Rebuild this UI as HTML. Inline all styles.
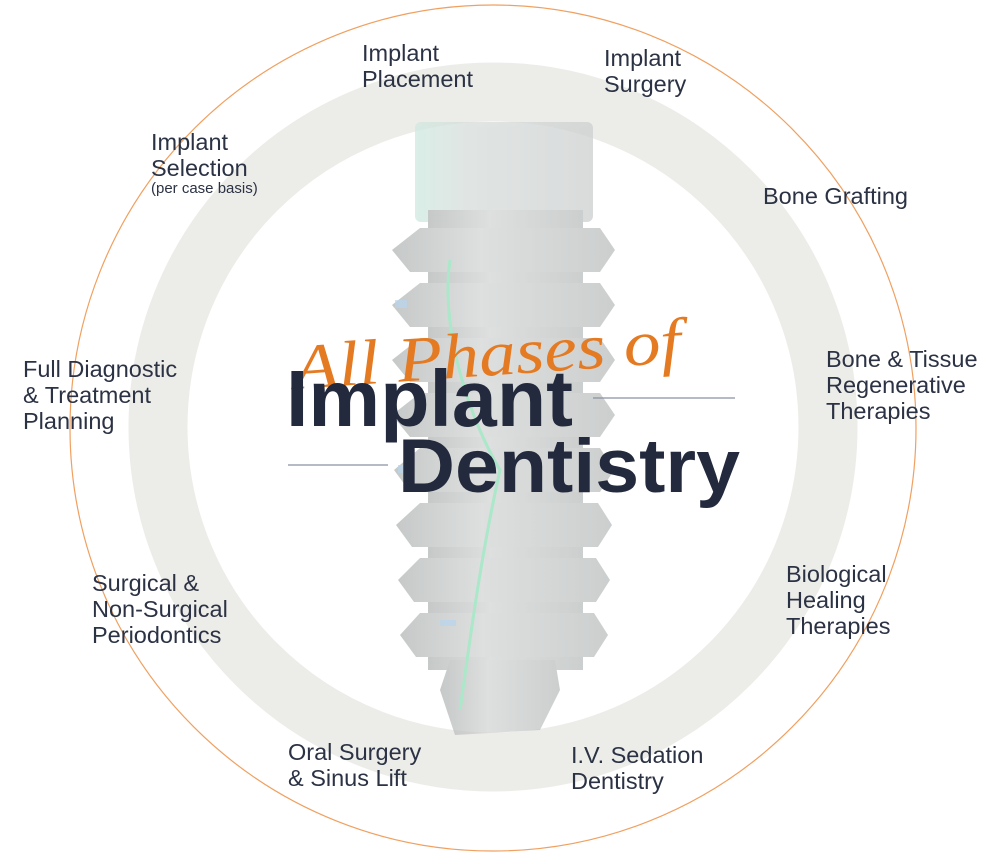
<!DOCTYPE html>
<html><head><meta charset="utf-8"><style>
html,body{margin:0;padding:0;background:#fff;}
body{width:988px;height:864px;position:relative;overflow:hidden;font-family:"Liberation Sans",sans-serif;}
.l{position:absolute;color:#2b3244;font-size:23.5px;line-height:26px;white-space:nowrap;}
.s{font-size:15px;line-height:16px;display:block;}
</style></head><body>
<svg width="988" height="864" style="position:absolute;left:0;top:0">
<defs>
<linearGradient id="g" x1="0" x2="1" y1="0" y2="0">
<stop offset="0" stop-color="#b4b7b7"/><stop offset="0.4" stop-color="#d3d5d5"/><stop offset="1" stop-color="#bcbfbf"/>
</linearGradient>
<linearGradient id="c" x1="0" x2="1" y1="0" y2="0">
<stop offset="0" stop-color="#cfe9e0"/><stop offset="0.3" stop-color="#d6dcda"/><stop offset="1" stop-color="#cdd0d0"/>
</linearGradient>
</defs>
<circle cx="493" cy="428" r="423" fill="none" stroke="#f0a060" stroke-width="1.2"/>
<circle cx="493" cy="427" r="335" fill="none" stroke="#ecece8" stroke-width="59"/>
<g opacity="0.75">
<rect x="415" y="122" width="178" height="100" rx="6" fill="url(#c)"/>
<rect x="428" y="210" width="155" height="460" fill="url(#g)"/>
<g fill="url(#g)">
<polygon points="392,250 420,228 600,228 615,250 600,272 410,272"/>
<polygon points="392,305 420,283 600,283 615,305 600,327 410,327"/>
<polygon points="392,360 420,338 600,338 615,360 600,382 410,382"/>
<polygon points="392,415 420,393 600,393 615,415 600,437 410,437"/>
<polygon points="394,470 420,448 600,448 614,470 600,492 410,492"/>
<polygon points="396,525 420,503 598,503 612,525 598,547 412,547"/>
<polygon points="398,580 420,558 596,558 610,580 596,602 414,602"/>
<polygon points="400,635 420,613 594,613 608,635 594,657 416,657"/>
<polygon points="440,690 450,660 555,660 560,690 540,730 455,735"/>
</g>
<g fill="#9fc7e8" opacity="0.7">
<rect x="395" y="300" width="12" height="8"/><rect x="590" y="355" width="14" height="6"/>
<rect x="398" y="465" width="10" height="8"/><rect x="440" y="620" width="16" height="6"/>
</g>
<path d="M450,260 C440,330 470,420 500,470 C480,560 470,640 460,710" fill="none" stroke="#8fe0b8" stroke-width="3"/>
</g>
<line x1="593" y1="398" x2="735" y2="398" stroke="#8a90a0" stroke-width="1.3"/>
<line x1="288" y1="465" x2="388" y2="465" stroke="#8a90a0" stroke-width="1.3"/>
<text x="292" y="376" font-family="Liberation Serif" font-style="italic" font-size="64" fill="#e47a22" transform="rotate(-4 480 340)" textLength="388" lengthAdjust="spacingAndGlyphs">All Phases of</text>
<text x="286" y="426" font-family="Liberation Sans" font-weight="bold" font-size="80" fill="#232a3d" textLength="287" lengthAdjust="spacingAndGlyphs">Implant</text>
<text x="398" y="492" font-family="Liberation Sans" font-weight="bold" font-size="76" fill="#232a3d" textLength="342" lengthAdjust="spacingAndGlyphs">Dentistry</text>
</svg>
<div class="l" style="left:362px;top:40px">Implant<br>Placement</div>
<div class="l" style="left:604px;top:45px">Implant<br>Surgery</div>
<div class="l" style="left:151px;top:129px">Implant<br>Selection<span class="s">(per case basis)</span></div>
<div class="l" style="left:763px;top:183px">Bone Grafting</div>
<div class="l" style="left:23px;top:356px">Full Diagnostic<br>&amp; Treatment<br>Planning</div>
<div class="l" style="left:826px;top:346px">Bone &amp; Tissue<br>Regenerative<br>Therapies</div>
<div class="l" style="left:92px;top:570px">Surgical &amp;<br>Non-Surgical<br>Periodontics</div>
<div class="l" style="left:786px;top:561px">Biological<br>Healing<br>Therapies</div>
<div class="l" style="left:288px;top:739px">Oral Surgery<br>&amp; Sinus Lift</div>
<div class="l" style="left:571px;top:742px">I.V. Sedation<br>Dentistry</div>
</body></html>
